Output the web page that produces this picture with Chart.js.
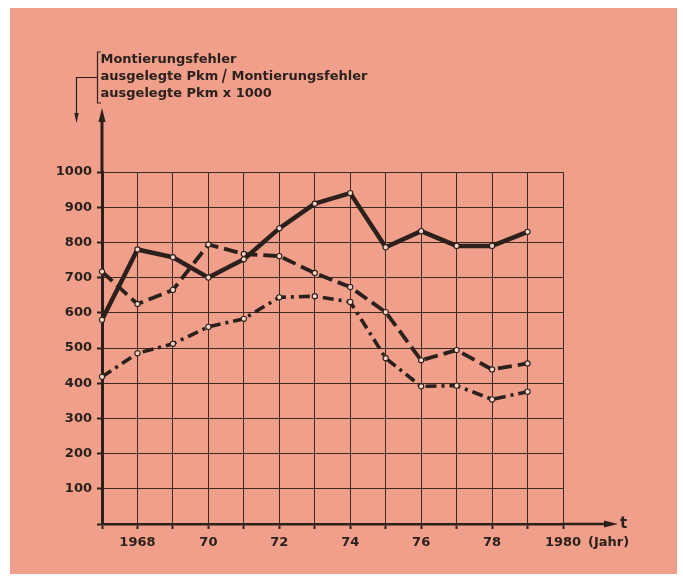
<!DOCTYPE html>
<html>
<head>
<meta charset="utf-8">
<script src="https://cdn.jsdelivr.net/npm/chart.js@4/dist/chart.umd.min.js"></script>
<style>
  html, body { margin: 0; padding: 0; background: #fff; }
  canvas { display: block; }
</style>
</head>
<body>
<canvas id="chart" width="683" height="577"></canvas>
<script>
// Jahre und Werte (Montierungsfehler / ausgelegte Pkm x 1000)
const years = [1967, 1968, 1969, 1970, 1971, 1972, 1973, 1974, 1975, 1976, 1977, 1978, 1979];
const solidValues   = [580, 780, 758, 700, 752, 840, 910, 940, 786, 832, 790, 790, 830];
const dashedValues  = [717, 625, 665, 794, 767, 761, 713, 673, 602, 465, 494, 439, 456];
const dashDotValues = [418, 485, 512, 560, 583, 644, 647, 631, 471, 391, 393, 354, 376];

// Achsenbeschriftung
const xLabelYears = [1968, 1970, 1972, 1974, 1976, 1978, 1980];
const xLabelTexts = ['1968', '70', '72', '74', '76', '78', '1980'];
const yMin = 0, yMax = 1000, yStep = 100;
const xMin = 1967, xMax = 1980;

const ink = '#2b201c';
const gridInk = '#3e2a23';
const paper = '#F0A08A';
const fontFamily = '"DejaVu Sans", sans-serif';

function toPoints(values) {
    return years.map((y, i) => ({ x: y, y: values[i] }));
}

function lineDataset(values, dash, width) {
    return {
        data: toPoints(values),
        borderColor: ink,
        borderWidth: width,
        borderDash: dash,
        borderCapStyle: 'butt',
        borderJoinStyle: 'round',
        pointRadius: 2.6,
        pointBackgroundColor: '#f6d3c4',
        pointBorderColor: ink,
        pointBorderWidth: 1.1,
        tension: 0,
        clip: false
    };
}

// Hintergrund, Pfeile und Kopfzeilen
const decoPlugin = {
    id: 'deco',
    beforeDraw(chart) {
        const ctx = chart.ctx;
        ctx.save();
        ctx.fillStyle = '#ffffff';
        ctx.fillRect(0, 0, chart.width, chart.height);
        ctx.fillStyle = paper;
        ctx.fillRect(10, 8, 667, 566);
        ctx.restore();
    },
    afterDraw(chart) {
        const ctx = chart.ctx;
        const area = chart.chartArea;
        const x0 = chart.scales.x.getPixelForValue(xMin);
        const y0 = chart.scales.y.getPixelForValue(0);
        ctx.save();
        ctx.strokeStyle = ink;
        ctx.fillStyle = ink;

        // y-Achse nach oben verlängern
        ctx.lineWidth = 3;
        ctx.beginPath();
        ctx.moveTo(x0, area.top + 1);
        ctx.lineTo(x0, 120);
        ctx.stroke();
        ctx.beginPath();
        ctx.moveTo(x0, 108);
        ctx.lineTo(x0 - 3.5, 122);
        ctx.lineTo(x0 + 3.5, 122);
        ctx.closePath();
        ctx.fill();

        // x-Achse nach rechts verlängern
        ctx.lineWidth = 2.5;
        ctx.beginPath();
        ctx.moveTo(area.right - 1, y0);
        ctx.lineTo(606, y0);
        ctx.stroke();
        ctx.beginPath();
        ctx.moveTo(618, y0);
        ctx.lineTo(604, y0 - 3.5);
        ctx.lineTo(604, y0 + 3.5);
        ctx.closePath();
        ctx.fill();

        // Klammer und kleiner Pfeil links
        ctx.lineWidth = 1.2;
        ctx.beginPath();
        ctx.moveTo(101, 52);
        ctx.lineTo(97.5, 52);
        ctx.lineTo(97.5, 103);
        ctx.lineTo(101, 103);
        ctx.moveTo(97.5, 77.5);
        ctx.lineTo(76.5, 77.5);
        ctx.lineTo(76.5, 116);
        ctx.stroke();
        ctx.beginPath();
        ctx.moveTo(76.5, 123);
        ctx.lineTo(74.3, 113);
        ctx.lineTo(78.7, 113);
        ctx.closePath();
        ctx.fill();

        // Texte
        ctx.font = 'bold 13px ' + fontFamily;
        ctx.textAlign = 'left';
        ctx.textBaseline = 'alphabetic';
        ctx.fillText('Montierungsfehler', 100.5, 63);
        ctx.fillText('ausgelegte Pkm', 100.5, 80);
        ctx.fillText('Montierungsfehler', 231.5, 80);
        ctx.fillText('ausgelegte Pkm x 1000', 100.5, 97);

        // Bruchstrich
        ctx.lineWidth = 1.6;
        ctx.beginPath();
        ctx.moveTo(226, 69);
        ctx.lineTo(222.5, 83);
        ctx.stroke();

        ctx.font = 'bold 13px ' + fontFamily;
        ctx.fillText('(Jahr)', 588, 545.5);
        ctx.font = 'bold 15px ' + fontFamily;
        ctx.fillText('t', 620, 528);
        ctx.restore();
    }
};

new Chart(document.getElementById('chart'), {
    type: 'line',
    data: {
        datasets: [
            lineDataset(solidValues, [], 4.5),
            lineDataset(dashedValues, [14, 6], 3.8),
            lineDataset(dashDotValues, [11, 5, 3, 5], 3.6)
        ]
    },
    options: {
        responsive: false,
        animation: false,
        layout: { padding: { left: 0, top: 172, right: 120, bottom: 0 } },
        plugins: {
            legend: { display: false },
            tooltip: { enabled: false }
        },
        scales: {
            x: {
                type: 'linear',
                min: xMin,
                max: xMax,
                afterFit(scale) { scale.height = 53; },
                grid: {
                    color: gridInk,
                    lineWidth: 1,
                    tickLength: 5,
                    tickWidth: 2,
                    tickColor: ink
                },
                border: { display: true, color: ink, width: 2.5 },
                ticks: {
                    stepSize: 1,
                    autoSkip: false,
                    maxRotation: 0,
                    padding: 6,
                    color: ink,
                    font: { family: fontFamily, size: 13, weight: 'bold' },
                    callback(value) {
                        const i = xLabelYears.indexOf(value);
                        return i >= 0 ? xLabelTexts[i] : '';
                    }
                }
            },
            y: {
                min: yMin,
                max: yMax,
                afterFit(scale) { scale.width = 102; },
                grid: {
                    color: gridInk,
                    lineWidth: 1,
                    tickLength: 5,
                    tickWidth: 2,
                    tickColor: ink
                },
                border: { display: true, color: ink, width: 3 },
                ticks: {
                    stepSize: yStep,
                    padding: 5,
                    color: ink,
                    font: { family: fontFamily, size: 13, weight: 'bold' },
                    callback(value) {
                        return value === 0 ? '' : String(value);
                    }
                }
            }
        }
    },
    plugins: [decoPlugin]
});
</script>
</body>
</html>
